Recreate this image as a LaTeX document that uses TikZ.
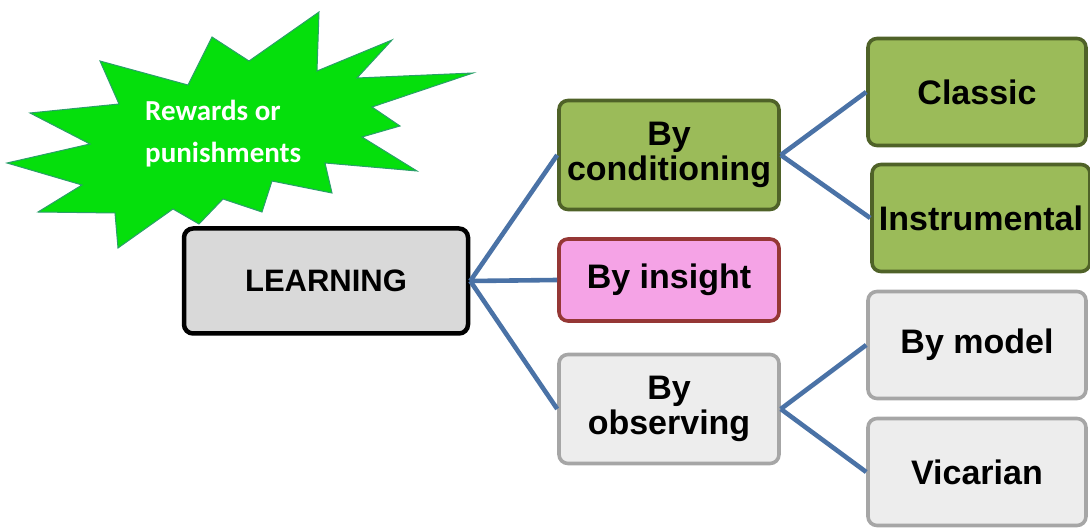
\documentclass[tikz,border=0pt]{standalone}
\usepackage{fontspec}
\setmainfont{Liberation Sans}
\newfontfamily\calib{Carlito}
\definecolor{starfill}{HTML}{05DF0C}
\definecolor{starline}{HTML}{2A9F6A}
\definecolor{condfill}{HTML}{9BBB59}
\definecolor{condline}{HTML}{4F6228}
\definecolor{insfill}{HTML}{F5A3E6}
\definecolor{insline}{HTML}{953735}
\definecolor{obsfill}{HTML}{EDEDED}
\definecolor{obsline}{HTML}{A6A6A6}
\definecolor{learnfill}{HTML}{D9D9D9}
\definecolor{linkcol}{HTML}{4A72A6}
\begin{document}
\begin{tikzpicture}[x=1pt,y=-1pt,
  box/.style={rectangle, rounded corners=9pt, line width=3.6pt, align=center, inner sep=0pt,
    font=\bfseries\fontsize{34}{35}\selectfont},
  cond/.style={box, fill=condfill, draw=condline},
  ins/.style={box, fill=insfill, draw=insline},
  obs/.style={box, fill=obsfill, draw=obsline},
  learn/.style={box, fill=learnfill, draw=black, line width=4.5pt, font=\bfseries\fontsize{31}{33}\selectfont},
  link/.style={draw=linkcol, line width=4.6pt}]
\useasboundingbox (0,0) rectangle (1090,529);
% starburst
\draw[fill=starfill, draw=starline, line width=1pt]
 (319,12) -- (317,71) -- (392,40) -- (357,78) -- (473,73) -- (372,107) -- (400,126) -- (362,137)
 -- (417,171) -- (325,163) -- (332,193) -- (272,181) -- (262,212) -- (223,199) -- (199,224)
 -- (173,209) -- (118,248) -- (115,213) -- (38,212) -- (82,185) -- (7,163) -- (90,144)
 -- (30,113) -- (119,104) -- (100,61) -- (188,85) -- (212,37) -- (249,61) -- cycle;
\node[anchor=west, text=white, align=left, inner sep=0pt, font=\calib\bfseries\fontsize{29}{42}\selectfont] (star) at (145,134) {Rewards or\\punishments};
% boxes
\node[learn, minimum width=284pt, minimum height=105pt] (learning) at (326,281) {LEARNING};
\node[cond, minimum width=220pt, minimum height=109pt] (conditioning) at (669,155) {By\\conditioning};
\node[ins, minimum width=220pt, minimum height=82pt] (insight) at (669,280) {By insight};
\node[obs, minimum width=220pt, minimum height=109pt] (observing) at (669,409) {By\\observing};
\node[cond, minimum width=218pt, minimum height=107pt] (classic) at (977,92) {Classic};
\node[cond, minimum width=218pt, minimum height=107pt] (instrumental) at (981,218) {Instrumental};
\node[obs, minimum width=218pt, minimum height=107pt] (model) at (977,345) {By model};
\node[obs, minimum width=218pt, minimum height=107pt] (vicarian) at (977,472) {Vicarian};
% connectors
\draw[link] (learning.east) -- (conditioning.west);
\draw[link] (learning.east) -- (insight.west);
\draw[link] (learning.east) -- (observing.west);
\draw[link] (conditioning.east) -- (classic.west);
\draw[link] (conditioning.east) -- (instrumental.west);
\draw[link] (observing.east) -- (model.west);
\draw[link] (observing.east) -- (vicarian.west);
\end{tikzpicture}
\end{document}
